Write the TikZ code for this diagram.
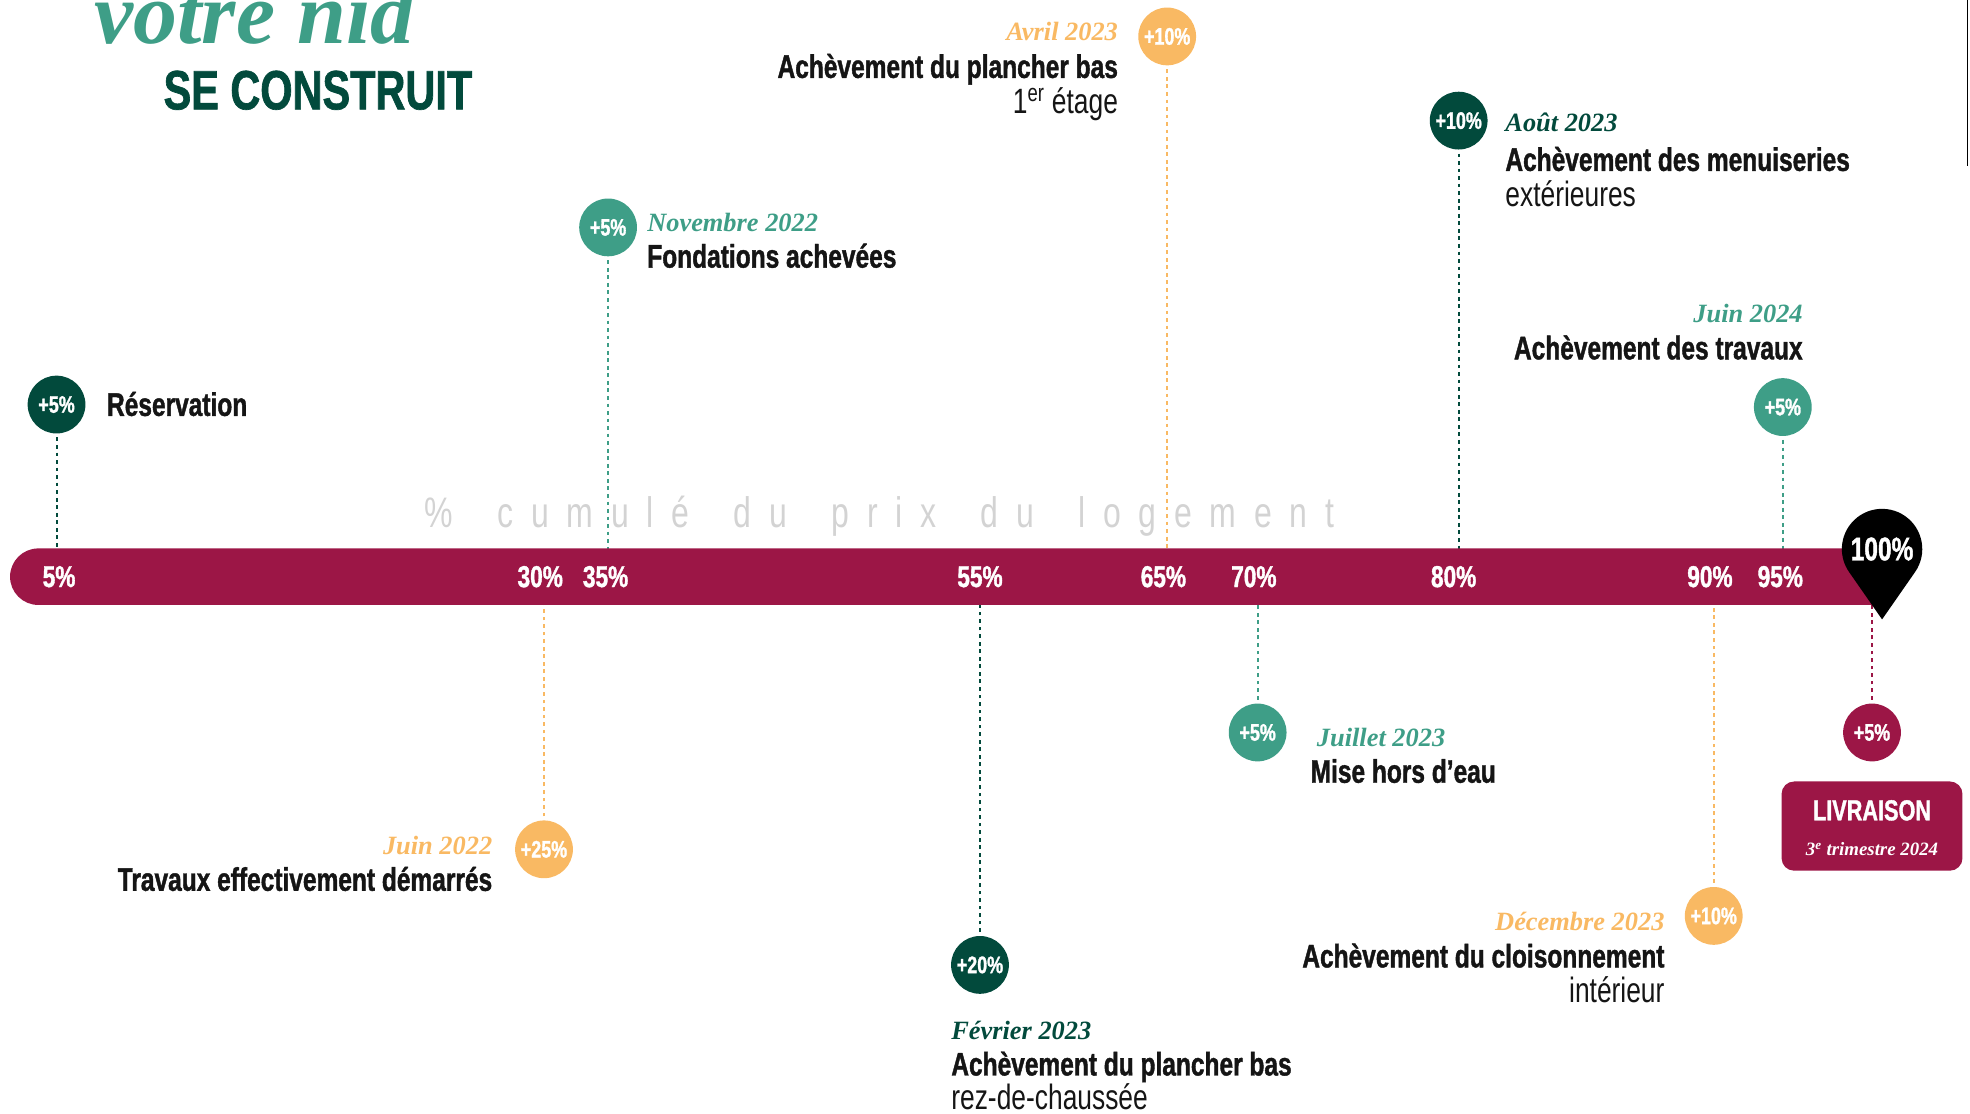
\documentclass[tikz,border=0pt]{standalone}
\usepackage{fontspec}
\setmainfont{Liberation Sans}
\newfontfamily\cond[FakeStretch=0.75, BoldFeatures={FakeBold=1.2}]{Liberation Sans}
\newfontfamily\scr{Liberation Serif}
\definecolor{dkg}{HTML}{024A3C}
\definecolor{teal2}{HTML}{3E9E87}
\definecolor{org}{HTML}{F9B963}
\definecolor{crim}{HTML}{9C1646}
\definecolor{gry}{HTML}{D3D3D3}
\definecolor{txt}{HTML}{151515}
\newcommand\LS{\hspace{14.1pt}}
\tikzset{
  circ/.style={circle, minimum size=46pt, inner sep=0pt, text=white, font=\cond\bfseries\fontsize{19}{19}\selectfont},
  lab/.style={inner sep=0pt, text=txt, font=\cond\bfseries\fontsize{26}{26}\selectfont},
  sublab/.style={inner sep=0pt, text=txt, font=\cond\fontsize{28}{28}\selectfont},
  datef/.style={inner sep=0pt, font=\scr\bfseries\itshape\fontsize{21}{21}\selectfont},
  dotl/.style={line width=1.6pt, dash pattern=on 3pt off 3pt, shorten <=3pt},
  pct/.style={inner sep=0pt, text=white, font=\cond\bfseries\fontsize{24}{24}\selectfont}
}
\begin{document}
\begin{tikzpicture}[x=1pt,y=1pt]
\useasboundingbox (0,0) rectangle (1568,-886);

% title
\node[anchor=base west, inner sep=0pt, text=teal2, font=\scr\bfseries\itshape\fontsize{70}{70}\selectfont] (t1) at (75,-35) {votre nid};
\node[anchor=base west, inner sep=0pt, text=dkg, font=\cond\bfseries\fontsize{44}{44}\selectfont] (t2) at (130,-87) {SE CONSTRUIT};
\draw[line width=1.5pt] (1566,0) -- (1566,-132);

% circles
\node[circ, fill=dkg]   (c1)  at (45,-322)   {+5\%};
\node[circ, fill=teal2] (c2)  at (484,-181)  {+5\%};
\node[circ, fill=org]   (c3)  at (929,-29)   {+10\%};
\node[circ, fill=dkg]   (c4)  at (1161,-96)  {+10\%};
\node[circ, fill=teal2] (c5)  at (1419,-324) {+5\%};
\node[circ, fill=org]   (c6)  at (433,-676)  {+25\%};
\node[circ, fill=dkg]   (c7)  at (780,-768)  {+20\%};
\node[circ, fill=teal2] (c8)  at (1001,-583) {+5\%};
\node[circ, fill=org]   (c9)  at (1364,-729) {+10\%};
\node[circ, fill=crim]  (c10) at (1490,-583) {+5\%};

\coordinate (b1) at (45,-459);
\coordinate (b2) at (484,-459);
\coordinate (b3) at (929,-459);
\coordinate (b4) at (1161,-459);
\coordinate (b5) at (1419,-459);
\coordinate (b6) at (433,-459);
\coordinate (b7) at (780,-459);
\coordinate (b8) at (1001,-459);
\coordinate (b9) at (1364,-459);
\coordinate (b10) at (1490,-459);

\draw[dotl, dkg]   (c1) -- (b1);
\draw[dotl, teal2] (c2) -- (b2);
\draw[dotl, org]   (c3) -- (b3);
\draw[dotl, dkg]   (c4) -- (b4);
\draw[dotl, teal2] (c5) -- (b5);
\draw[dotl, org]   (c6) -- (b6);
\draw[dotl, dkg]   (c7) -- (b7);
\draw[dotl, teal2] (c8) -- (b8);
\draw[dotl, org]   (c9) -- (b9);
\draw[dotl, crim]  (c10) -- (b10);

% cumulative text
\node[anchor=base west, inner sep=0pt, text=gry, font=\cond\fontsize{34}{34}\selectfont] (cum) at (338,-420)
 {\%\LS\ \LS c\LS u\LS m\LS u\LS l\LS é\LS\ \LS d\LS u\LS\ \LS p\LS r\LS i\LS x\LS\ \LS d\LS u\LS\ \LS l\LS o\LS g\LS e\LS m\LS e\LS n\LS t};

% bar
\fill[crim] (30.5,-436.5) -- (1495,-436.5) -- (1495,-481.5) -- (30.5,-481.5) arc[start angle=270, end angle=90, radius=22.5] -- cycle;

\node[pct] (p5)  at (47,-459)   {5\%};
\node[pct] (p30) at (430,-459)  {30\%};
\node[pct] (p35) at (482,-459)  {35\%};
\node[pct] (p55) at (780,-459)  {55\%};
\node[pct] (p65) at (926,-459)  {65\%};
\node[pct] (p70) at (998,-459)  {70\%};
\node[pct] (p80) at (1157,-459) {80\%};
\node[pct] (p90) at (1361,-459) {90\%};
\node[pct] (p95) at (1417,-459) {95\%};

% pin
\fill[black] (1498,-493) -- ([shift={(1498,-437)}]-34.85:32) arc[start angle=-34.85, end angle=214.85, radius=32] -- cycle;
\node[pct, font=\cond\bfseries\fontsize{26}{26}\selectfont] (pin) at (1498,-437) {100\%};

% labels
\node[lab, anchor=base west] (l1) at (85,-331) {Réservation};

\node[datef, text=teal2, anchor=base west] (d2) at (515,-184) {Novembre 2022};
\node[lab, anchor=base west] (l2) at (515,-213) {Fondations achevées};

\node[datef, text=org, anchor=base east] (d3) at (890,-32) {Avril 2023};
\node[lab, anchor=base east] (l3) at (890,-62) {Achèvement du plancher bas};
\node[sublab, anchor=base east] (s3) at (890,-90) {1\textsuperscript{er} étage};

\node[datef, text=dkg, anchor=base west] (d4) at (1198,-105) {Août 2023};
\node[lab, anchor=base west] (l4) at (1198,-136) {Achèvement des menuiseries};
\node[sublab, anchor=base west] (s4) at (1198,-164) {extérieures};

\node[datef, text=teal2, anchor=base east] (d5) at (1435,-257) {Juin 2024};
\node[lab, anchor=base east] (l5) at (1435,-286) {Achèvement des travaux};

\node[datef, text=org, anchor=base east] (d6) at (392,-680) {Juin 2022};
\node[lab, anchor=base east] (l6) at (392,-709) {Travaux effectivement démarrés};

\node[datef, text=dkg, anchor=base west] (d7) at (757,-827) {Février 2023};
\node[lab, anchor=base west] (l7) at (757,-856) {Achèvement du plancher bas};
\node[sublab, anchor=base west] (s7) at (757,-883) {rez-de-chaussée};

\node[datef, text=teal2, anchor=base west] (d8) at (1048,-594) {Juillet 2023};
\node[lab, anchor=base west] (l8) at (1043,-623) {Mise hors d’eau};

\node[datef, text=org, anchor=base east] (d9) at (1325,-741) {Décembre 2023};
\node[lab, anchor=base east] (l9) at (1325,-770) {Achèvement du cloisonnement};
\node[sublab, anchor=base east] (s9) at (1325,-798) {intérieur};

% livraison
\node[fill=crim, rounded corners=10pt, minimum width=144pt, minimum height=71pt, inner sep=0pt] (liv) at (1490,-657.5) {};
\node[pct, font=\cond\bfseries\fontsize{23}{23}\selectfont] (livt) at (1490,-645) {LIVRAISON};
\node[datef, text=white, font=\scr\bfseries\itshape\fontsize{15}{15}\selectfont] (livd) at (1490,-676) {3\textsuperscript{e} trimestre 2024};
\end{tikzpicture}
\end{document}
